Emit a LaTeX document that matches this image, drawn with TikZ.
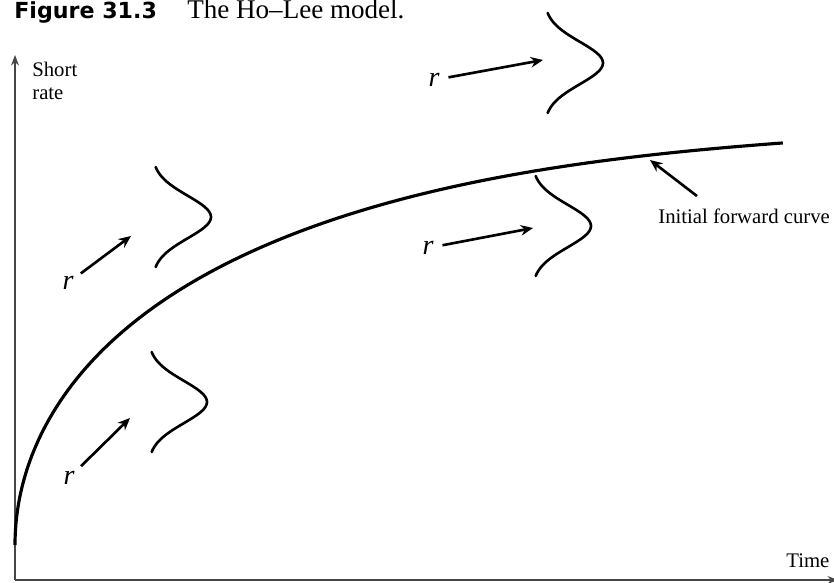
\documentclass[tikz,border=0pt]{standalone}
\usepackage{fontspec}
\setmainfont{Liberation Serif}
\newfontfamily\capfont{DejaVu Sans}
\usetikzlibrary{arrows.meta,positioning}

\tikzset{
  axis/.style={line width=0.6pt,gray!55!black},
  fwd/.style={line width=1.8pt},
  dist/.style={line width=1.5pt,line cap=round},
  rarrow/.style={line width=1.5pt,shorten <=5pt,-{Stealth[length=7pt,width=6pt]}},
  lbl/.style={font=\fontsize{11.8}{13}\selectfont,inner sep=0pt},
  rlbl/.style={font=\fontsize{16}{16}\selectfont\itshape,inner sep=0pt}
}

\begin{document}
\begin{tikzpicture}[x=0.02cm,y=0.02cm]
\useasboundingbox (-15,-2) rectangle (819,580);
% caption line
\node[anchor=base west,inner sep=0pt,font=\capfont\bfseries\fontsize{12.6}{14}\selectfont] (fignum) at (-1,561) {Figure 31.3};
\node[anchor=base west,inner sep=0pt,font=\fontsize{15.4}{16}\selectfont] (title) at (172,561) {The Ho--Lee model.};
% axes
\coordinate (O) at (0,0);
\coordinate (ytop) at (0,525);
\coordinate (xend) at (823,0);
\draw[axis,-{Stealth[length=6pt,width=4.5pt]}] (O) -- (ytop);
\draw[axis,-{Stealth[length=6pt,width=4.5pt]}] (O) -- (xend);
\node[lbl,anchor=north west,align=left] (ylab) at (17,518) {Short\\rate};
\node[lbl,anchor=base west] (xlab) at (771,13) {Time};
% initial forward curve
\draw[fwd] plot[domain=0:27.71,samples=90,smooth]
  ({\x*\x},{35+537*\x/sqrt(\x*\x+602)+10*sin(\x*\x*0.234375)});
\node[lbl,anchor=base west] (fwdlab) at (643,357) {Initial forward curve};
\coordinate (hFwd) at (635,420);
\coordinate[above right=0.24cm and 0.78cm of fwdlab.north west] (tFwd);
\draw[rarrow,shorten <=0pt] (tFwd) -- (hFwd);
% distributions of r
\foreach \bx/\by in {529/517, 137/363, 133/178, 517/354}
  \draw[dist] plot[domain=-1:1,samples=41,smooth] ({\bx+59*exp(-((\x)*(\x))/0.36)},{\by+50*\x});
\node[rlbl] (rTop) at (419,500) {r};
\node[rlbl] (rUp) at (53,297) {r};
\node[rlbl] (rLow) at (54,102) {r};
\node[rlbl] (rMid) at (413,332) {r};
\coordinate (hTop) at (528,520);
\coordinate (hUp) at (116,344);
\coordinate (hLow) at (115,162);
\coordinate (hMid) at (518,352);
\draw[rarrow] (rTop) -- (hTop);
\draw[rarrow] (rUp) -- (hUp);
\draw[rarrow] (rLow) -- (hLow);
\draw[rarrow] (rMid) -- (hMid);
\end{tikzpicture}
\end{document}
